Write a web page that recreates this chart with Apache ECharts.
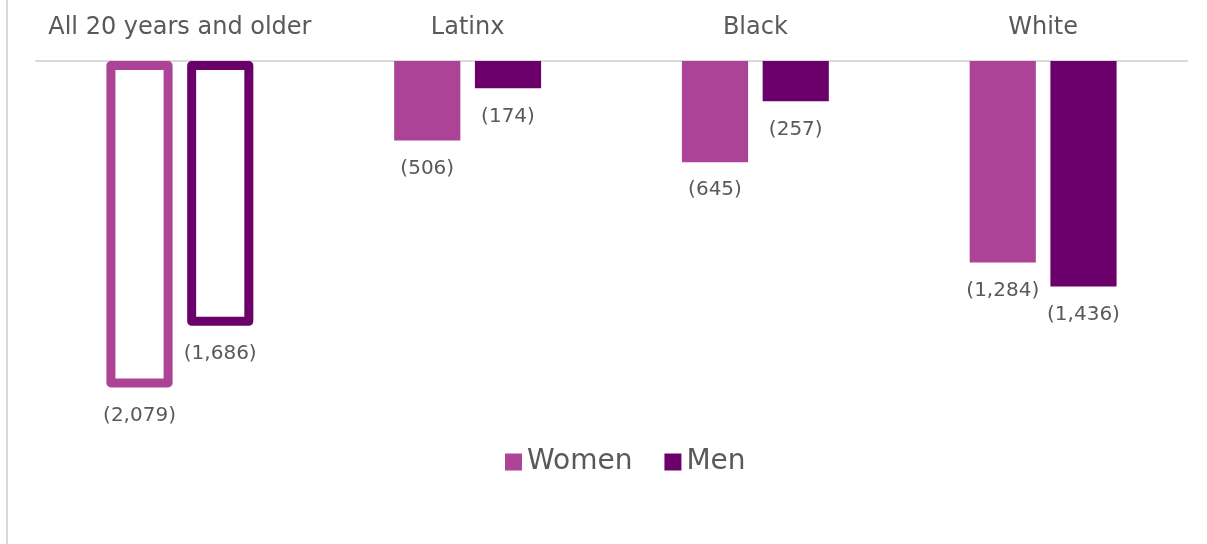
<!DOCTYPE html>
<html>
<head>
<meta charset="utf-8">
<script src="https://cdn.jsdelivr.net/npm/echarts@6/dist/echarts.min.js"></script>
<style>
  html, body { margin: 0; padding: 0; background: #fff; }
  .frame { position: absolute; left: 6px; top: 0; width: 1201px; height: 544px; border-left: 2px solid #d9d9d9; box-sizing: border-box; }
  #chart { position: absolute; left: 0; top: 0; width: 1207px; height: 544px; }
</style>
</head>
<body>
<div class="frame"></div>
<div id="chart"></div>
<script>
// 数据
const categories = ['All 20 years and older', 'Latinx', 'Black', 'White']
const women = [-2079, -506, -645, -1284]
const men = [-1686, -174, -257, -1436]

const womenColor = '#ad4396'
const menColor = '#6b006b'
const textColor = '#595959'
const fontName = 'DejaVu Sans'

function fmt(p) {
  return '(' + Math.abs(p.value).toLocaleString('en-US') + ')'
}

// 第一组是空心柱
function buildData(arr, color) {
  return arr.map(function (v, i) {
    if (i === 0) {
      return {
        value: v,
        itemStyle: {
          color: '#fff',
          borderColor: color,
          borderWidth: 9,
          borderJoin: 'round'
        }
      }
    }
    return v
  })
}

const myechart = echarts.init(document.getElementById('chart'))
const option = {
  animation: false,
  textStyle: { fontFamily: fontName },
  legend: {
    data: ['Women', 'Men'],
    top: 443,
    left: 500,
    icon: 'rect',
    itemWidth: 17,
    itemHeight: 17,
    itemGap: 32,
    itemStyle: { borderWidth: 0 },
    textStyle: { color: textColor, fontSize: 28, fontFamily: fontName }
  },
  grid: {
    top: 61,
    left: 36,
    right: 20,
    height: 471
  },
  xAxis: {
    type: 'category',
    position: 'top',
    data: categories,
    axisTick: { show: false },
    axisLine: { show: true, lineStyle: { color: '#d9d9d9', width: 2 } },
    axisLabel: { interval: 0, color: textColor, fontSize: 24, margin: 21, fontFamily: fontName }
  },
  yAxis: {
    type: 'value',
    min: -3000,
    max: 0,
    show: false,
    splitLine: { show: false }
  },
  series: [
    {
      name: 'Women',
      type: 'bar',
      data: buildData(women, womenColor),
      barWidth: '23%',
      barGap: '22%',
      itemStyle: { color: womenColor },
      label: {
        show: true,
        position: 'bottom',
        distance: 18,
        color: textColor,
        fontSize: 20,
        fontFamily: fontName,
        formatter: fmt
      }
    },
    {
      name: 'Men',
      type: 'bar',
      data: buildData(men, menColor),
      barWidth: '23%',
      itemStyle: { color: menColor },
      label: {
        show: true,
        position: 'bottom',
        distance: 18,
        color: textColor,
        fontSize: 20,
        fontFamily: fontName,
        formatter: fmt
      }
    }
  ]
}
myechart.setOption(option)
</script>
</body>
</html>
